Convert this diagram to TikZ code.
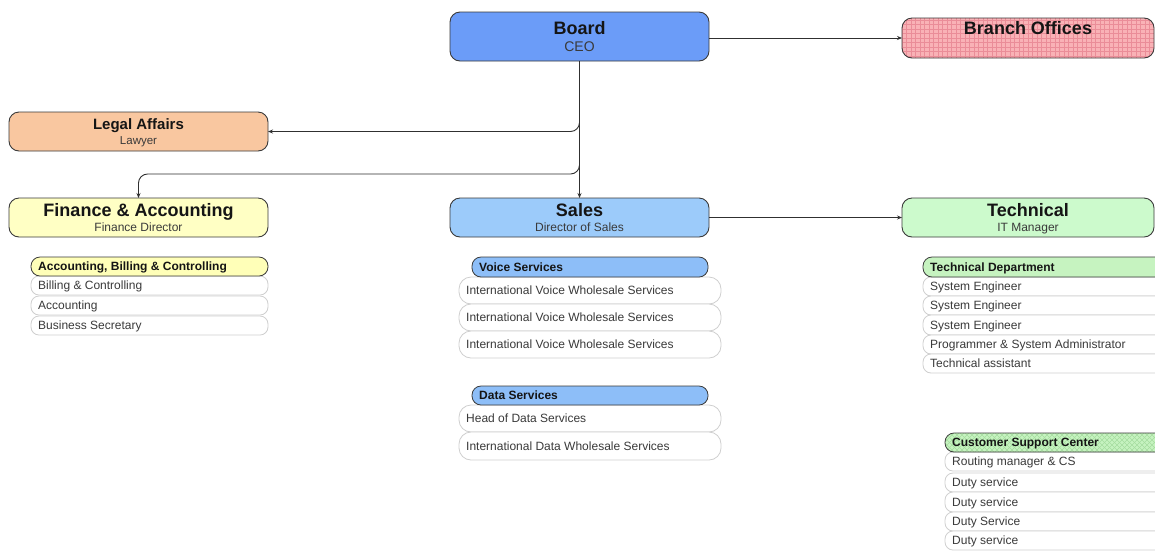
\documentclass[tikz,border=0pt]{standalone}
\usepackage{fontspec}
\setmainfont{Liberation Sans}
\usetikzlibrary{arrows.meta}
\definecolor{linegray}{HTML}{3A3A3A}
\definecolor{rowgray}{HTML}{CFCFCF}
\definecolor{conncol}{HTML}{303030}
\definecolor{titlecol}{HTML}{151515}
\definecolor{subcol}{HTML}{3A3A3A}
\definecolor{boardblue}{HTML}{6B9CF8}
\definecolor{salesblue}{HTML}{9CCBFA}
\definecolor{hdrblue}{HTML}{8DBEF8}
\definecolor{legalpeach}{HTML}{F9C7A0}
\definecolor{finyellow}{HTML}{FFFFC4}
\definecolor{hdryellow}{HTML}{FFFFB8}
\definecolor{techgreen}{HTML}{CCFACC}
\definecolor{hdrgreen}{HTML}{C6F3C0}
\definecolor{branchpink}{HTML}{F9B2B6}
\definecolor{gridred}{HTML}{EA8D98}
\definecolor{hatchgreen}{HTML}{A6DDA0}
\newcommand\orgrow[7]{% name, box style, x, y, w, h, text
  \node[#2, minimum width=#5pt, minimum height=#6pt] (#1) at (#3,#4) {};
  \node[rowt] (#1-t) at ([xshift=7pt]#1.west) {#7};
}
\newcommand\orghdr[7]{% name, box style, x, y, w, h, text
  \node[#2, minimum width=#5pt, minimum height=#6pt] (#1) at (#3,#4) {};
  \node[hdrt] (#1-t) at ([xshift=7pt]#1.west) {#7};
}
\begin{document}
\begin{tikzpicture}[x=1pt,y=-1pt,
  mainbox/.style={draw=linegray, line width=0.9pt, rounded corners=10pt, inner sep=0pt, outer sep=0pt, anchor=north west},
  ttl/.style={font=\bfseries\fontsize{18}{20}\selectfont, text=titlecol, anchor=base, inner sep=0pt},
  sub/.style={font=\fontsize{12}{14}\selectfont, text=subcol, anchor=base, inner sep=0pt},
  hdr/.style={draw=linegray, line width=0.8pt, rounded corners=9pt, anchor=north west, inner sep=0pt, outer sep=0pt},
  rowb/.style={draw=rowgray, fill=white, line width=0.8pt, rounded corners=8pt, anchor=north west, inner sep=0pt, outer sep=0pt},
  rowbig/.style={rowb, rounded corners=12pt},
  rowt/.style={font=\fontsize{12}{14}\selectfont, text=subcol, anchor=west, inner sep=0pt, text height=8.6pt, text depth=0pt},
  hdrt/.style={font=\bfseries\fontsize{12}{14}\selectfont, text=titlecol, anchor=west, inner sep=0pt, text height=8.6pt, text depth=0pt},
  conn/.style={draw=conncol, line width=0.9pt, rounded corners=9pt, -{Stealth[length=5pt,width=4pt]}},
  gridfill/.style={path picture={\draw[gridred, line width=0.25pt] (path picture bounding box.south west) grid[step=4.5pt] (path picture bounding box.north east);}},
  hatchfill/.style={path picture={\foreach \k in {-30,-25,...,240} {\draw[hatchgreen, line width=0.4pt] ([xshift=\k pt]path picture bounding box.south west) -- ++(30,-30); \draw[hatchgreen, line width=0.4pt] ([xshift=\k pt]path picture bounding box.north west) -- ++(30,30);}}}
]
\useasboundingbox (0,0) rectangle (1155,550);
\clip (0,0) rectangle (1155,550);
\fill[white] (0,0) rectangle (1155,550);

% main boxes
\node[mainbox, fill=boardblue, minimum width=259pt, minimum height=49pt] (board) at (450,12) {};
\node[ttl] (board-t) at ([yshift=-22pt]board.north) {Board};
\node[sub, font=\fontsize{14}{16}\selectfont, text=subcol] (board-s) at ([yshift=-39pt]board.north) {CEO};

\node[mainbox, fill=branchpink, gridfill, minimum width=252pt, minimum height=40pt] (branch) at (902,18) {};
\node[ttl] (branch-t) at ([yshift=-16pt]branch.north) {Branch Offices};

\node[mainbox, fill=legalpeach, minimum width=259pt, minimum height=39pt] (legal) at (9,112) {};
\node[ttl, font=\bfseries\fontsize{15}{17}\selectfont] (legal-t) at ([yshift=-17.5pt]legal.north) {Legal Affairs};
\node[sub, font=\fontsize{11.5}{13}\selectfont] (legal-s) at ([yshift=-32pt]legal.north) {Lawyer};

\node[mainbox, fill=finyellow, minimum width=259pt, minimum height=39pt] (finance) at (9,198) {};
\node[ttl] (finance-t) at ([yshift=-18pt]finance.north) {Finance \& Accounting};
\node[sub] (finance-s) at ([yshift=-33.5pt]finance.north) {Finance Director};

\node[mainbox, fill=salesblue, minimum width=259pt, minimum height=39pt] (sales) at (450,198) {};
\node[ttl] (sales-t) at ([yshift=-18pt]sales.north) {Sales};
\node[sub] (sales-s) at ([yshift=-33.5pt]sales.north) {Director of Sales};

\node[mainbox, fill=techgreen, minimum width=252pt, minimum height=39pt] (tech) at (902,198) {};
\node[ttl] (tech-t) at ([yshift=-18pt]tech.north) {Technical};
\node[sub] (tech-s) at ([yshift=-33.5pt]tech.north) {IT Manager};

% connectors
\draw[conn] (board.south) -- (sales.north);
\draw[conn] (board.south) |- (legal.east);
\draw[conn] (board.south) -- ++(0,113) -| (finance.north);
\draw[conn] (board.east |- branch.west) -- (branch.west);
\draw[conn] (sales.east) -- (tech.west);

% finance list
\orgrow{fr1}{rowb}{31}{276}{237}{19}{Billing \& Controlling}
\orgrow{fr2}{rowb}{31}{296}{237}{19}{Accounting}
\orgrow{fr3}{rowb}{31}{316}{237}{19}{Business Secretary}
\orghdr{fh}{hdr, fill=hdryellow}{31}{257}{237}{19}{Accounting, Billing \& Controlling}

% sales voice list
\orgrow{vr1}{rowbig}{459}{277}{262}{27}{International Voice Wholesale Services}
\orgrow{vr2}{rowbig}{459}{304}{262}{27}{International Voice Wholesale Services}
\orgrow{vr3}{rowbig}{459}{331}{262}{27}{International Voice Wholesale Services}
\orghdr{vh}{hdr, fill=hdrblue}{472}{257}{236}{20}{Voice Services}

% sales data list
\orgrow{dr1}{rowbig}{459}{405}{262}{27}{Head of Data Services}
\orgrow{dr2}{rowbig}{459}{432}{262}{28}{International Data Wholesale Services}
\orghdr{dh}{hdr, fill=hdrblue}{472}{386}{236}{19}{Data Services}

% technical list
\orgrow{tr1}{rowb}{923}{277}{245}{19}{System Engineer}
\orgrow{tr2}{rowb}{923}{296}{245}{19}{System Engineer}
\orgrow{tr3}{rowb}{923}{315}{245}{20}{System Engineer}
\orgrow{tr4}{rowb}{923}{335}{245}{19}{Programmer \& System Administrator}
\orgrow{tr5}{rowb}{923}{354}{245}{19}{Technical assistant}
\orghdr{th}{hdr, fill=hdrgreen}{923}{257}{245}{20}{Technical Department}

% customer support list
\orgrow{cr1}{rowb}{945}{452}{225}{19}{Routing manager \& CS}
\orgrow{cr2}{rowb}{945}{473}{225}{19}{Duty service}
\orgrow{cr3}{rowb}{945}{492}{225}{20}{Duty service}
\orgrow{cr4}{rowb}{945}{512}{225}{19}{Duty Service}
\orgrow{cr5}{rowb}{945}{531}{225}{19}{Duty service}
\orghdr{ch}{hdr, fill=hdrgreen, hatchfill}{945}{433}{225}{19}{Customer Support Center}
\end{tikzpicture}
\end{document}
